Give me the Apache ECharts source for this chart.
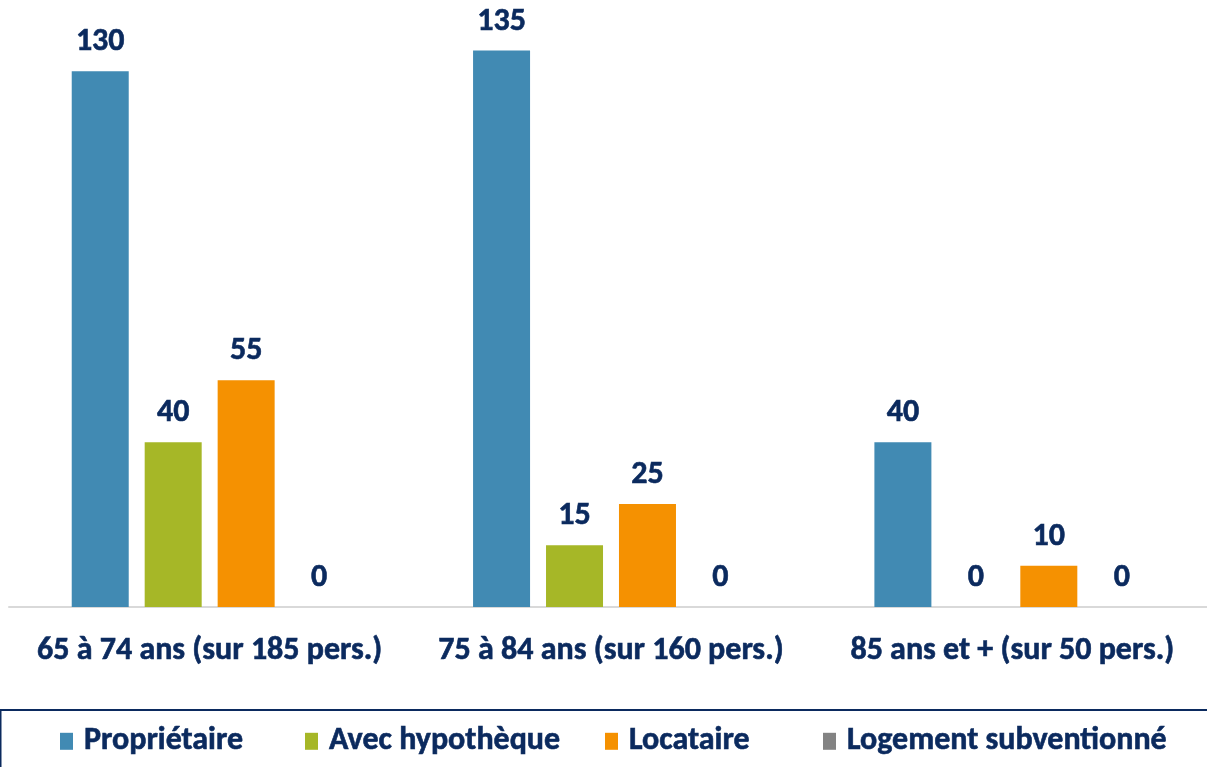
<!DOCTYPE html>
<html>
<head>
<meta charset="utf-8">
<script src="https://cdn.jsdelivr.net/npm/echarts@6/dist/echarts.min.js"></script>
<style>
  html, body { margin: 0; padding: 0; background: #fff; overflow: hidden; }
  #chart { width: 1216px; height: 767px; }
</style>
</head>
<body>
<div id="chart"></div>
<script>
// categories
var categories = ['65 à 74 ans (sur 185 pers.)', '75 à 84 ans (sur 160 pers.)', '85 ans et + (sur 50 pers.)'];
// series
var seriesNames = ['Propriétaire', 'Avec hypothèque', 'Locataire', 'Logement subventionné'];
var proprietaire = [130, 135, 40];
var hypotheque = [40, 15, 0];
var locataire = [55, 25, 10];
var subventionne = [0, 0, 0];

var colors = ['#418ab3', '#a6b727', '#f59101', '#838383'];
var navy = '#0b2a5e';
var font = "Carlito, 'Open Sans', sans-serif";
var legendLeft = [55, 300, 600, 818];

var chart = echarts.init(document.getElementById('chart'));

function makeSeries(name, data, color) {
    return {
        name: name,
        type: 'bar',
        data: data,
        barWidth: 57,
        barGap: '28%',
        itemStyle: { color: color },
        label: {
            show: true,
            position: 'top',
            distance: 13,
            color: navy,
            fontWeight: 'bold',
            fontSize: 32,
            fontFamily: font,
            textBorderColor: navy,
            textBorderWidth: 0.6
        }
    };
}

var legends = seriesNames.map(function (name, i) {
    return {
        left: legendLeft[i],
        top: 720,
        itemWidth: 13,
        itemHeight: 17,
        icon: 'rect',
        data: [name],
        textStyle: {
            color: navy, fontWeight: 'bold', fontSize: 32, fontFamily: font,
            padding: [0, 0, 0, 6], textBorderColor: navy, textBorderWidth: 0.6
        }
    };
});

chart.setOption({
    animation: false,
    color: colors,
    grid: { left: 9, right: 3, top: 30, bottom: 160 },
    legend: legends,
    graphic: [{
        type: 'rect',
        shape: { x: 0.5, y: 710, width: 1240, height: 80 },
        style: { fill: 'none', stroke: navy, lineWidth: 2 },
        silent: true
    }],
    xAxis: {
        type: 'category',
        data: categories,
        axisTick: { show: false },
        axisLine: { lineStyle: { color: '#d9d9d9', width: 2 } },
        axisLabel: {
            interval: 0,
            color: navy,
            fontWeight: 'bold',
            fontSize: 32,
            fontFamily: font,
            margin: 28,
            textBorderColor: navy,
            textBorderWidth: 0.6
        }
    },
    yAxis: {
        type: 'value',
        min: 0,
        max: 140,
        show: false,
        splitLine: { show: false }
    },
    series: [
        makeSeries(seriesNames[0], proprietaire, colors[0]),
        makeSeries(seriesNames[1], hypotheque, colors[1]),
        makeSeries(seriesNames[2], locataire, colors[2]),
        makeSeries(seriesNames[3], subventionne, colors[3])
    ]
});
</script>
</body>
</html>
